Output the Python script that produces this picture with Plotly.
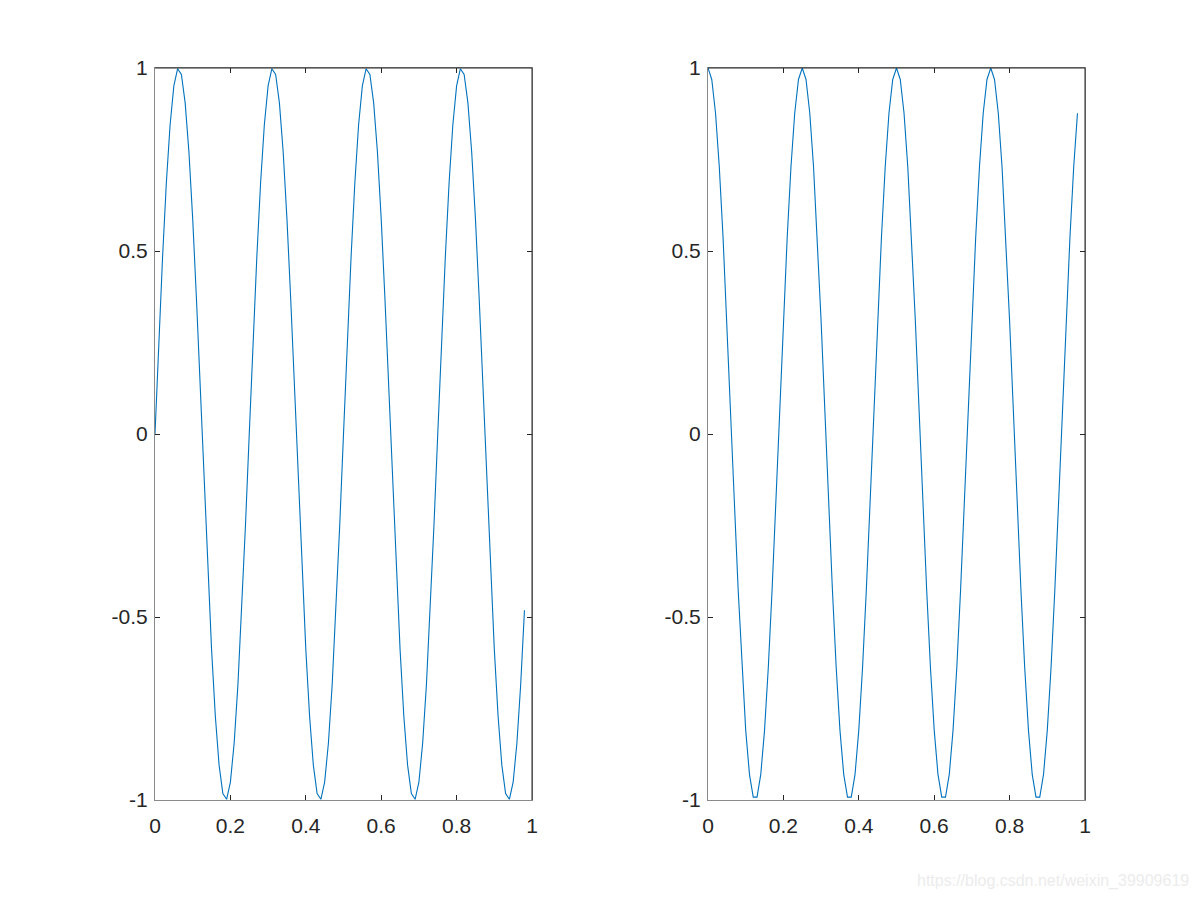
import plotly.graph_objects as go

# sample times (0 to 0.98, step 0.01)
t = [round(i * 0.01, 2) for i in range(99)]

# left panel values (sine)
y_left = [
    0.0000, 0.2487, 0.4818, 0.6845, 0.8443, 0.9511, 0.9980, 0.9823, 0.9048, 0.7705,
    0.5878, 0.3681, 0.1253, -0.1253, -0.3681, -0.5878, -0.7705, -0.9048, -0.9823, -0.9980,
    -0.9511, -0.8443, -0.6845, -0.4818, -0.2487,
    0.0000, 0.2487, 0.4818, 0.6845, 0.8443, 0.9511, 0.9980, 0.9823, 0.9048, 0.7705,
    0.5878, 0.3681, 0.1253, -0.1253, -0.3681, -0.5878, -0.7705, -0.9048, -0.9823, -0.9980,
    -0.9511, -0.8443, -0.6845, -0.4818, -0.2487,
    0.0000, 0.2487, 0.4818, 0.6845, 0.8443, 0.9511, 0.9980, 0.9823, 0.9048, 0.7705,
    0.5878, 0.3681, 0.1253, -0.1253, -0.3681, -0.5878, -0.7705, -0.9048, -0.9823, -0.9980,
    -0.9511, -0.8443, -0.6845, -0.4818, -0.2487,
    0.0000, 0.2487, 0.4818, 0.6845, 0.8443, 0.9511, 0.9980, 0.9823, 0.9048, 0.7705,
    0.5878, 0.3681, 0.1253, -0.1253, -0.3681, -0.5878, -0.7705, -0.9048, -0.9823, -0.9980,
    -0.9511, -0.8443, -0.6845, -0.4818,
]

# right panel values (cosine)
y_right = [
    1.0000, 0.9686, 0.8763, 0.7290, 0.5358, 0.3090, 0.0628, -0.1874, -0.4258, -0.6374,
    -0.8090, -0.9298, -0.9921, -0.9921, -0.9298, -0.8090, -0.6374, -0.4258, -0.1874, 0.0628,
    0.3090, 0.5358, 0.7290, 0.8763, 0.9686,
    1.0000, 0.9686, 0.8763, 0.7290, 0.5358, 0.3090, 0.0628, -0.1874, -0.4258, -0.6374,
    -0.8090, -0.9298, -0.9921, -0.9921, -0.9298, -0.8090, -0.6374, -0.4258, -0.1874, 0.0628,
    0.3090, 0.5358, 0.7290, 0.8763, 0.9686,
    1.0000, 0.9686, 0.8763, 0.7290, 0.5358, 0.3090, 0.0628, -0.1874, -0.4258, -0.6374,
    -0.8090, -0.9298, -0.9921, -0.9921, -0.9298, -0.8090, -0.6374, -0.4258, -0.1874, 0.0628,
    0.3090, 0.5358, 0.7290, 0.8763, 0.9686,
    1.0000, 0.9686, 0.8763, 0.7290, 0.5358, 0.3090, 0.0628, -0.1874, -0.4258, -0.6374,
    -0.8090, -0.9298, -0.9921, -0.9921, -0.9298, -0.8090, -0.6374, -0.4258, -0.1874, 0.0628,
    0.3090, 0.5358, 0.7290, 0.8763,
]

x_ticks = [0, 0.2, 0.4, 0.6, 0.8, 1]
x_ticklabels = ["0", "0.2", "0.4", "0.6", "0.8", "1"]
y_ticks = [-1, -0.5, 0, 0.5, 1]
y_ticklabels = ["-1", "-0.5", "0", "0.5", "1"]

LINE_COLOR = "#0072BD"
DARK = "#262626"
GRAY = "#8a8a8a"
OFF = 8  # page body offset
W, H = 1200 - OFF, 900 - OFF

fig = go.Figure()
fig.add_trace(go.Scatter(x=t, y=y_left, mode="lines", line=dict(color=LINE_COLOR, width=1.1),
                         xaxis="x", yaxis="y", showlegend=False))
fig.add_trace(go.Scatter(x=t, y=y_right, mode="lines", line=dict(color=LINE_COLOR, width=1.1),
                         xaxis="x2", yaxis="y2", showlegend=False))

def px_x(p):
    return (p - OFF) / W

def px_y(p):
    return 1 - (p - OFF) / H

xdom1 = [px_x(155), px_x(532)]
xdom2 = [px_x(708), px_x(1085)]
ydom = [px_y(800), px_y(68)]

font = dict(family="Liberation Sans, Arial, sans-serif", size=21, color=DARK)

def xaxis(dom, anchor):
    return dict(domain=dom, range=[0, 1], tickvals=x_ticks, ticktext=x_ticklabels,
                ticks="inside", ticklen=5, tickcolor=DARK, tickwidth=1,
                showline=True, linecolor=GRAY, linewidth=1, mirror="ticks",
                showgrid=False, zeroline=False, anchor=anchor, tickfont=font,
                automargin=False, ticklabelstandoff=7, fixedrange=True)

def yaxis(anchor):
    return dict(domain=ydom, range=[-1, 1], tickvals=y_ticks, ticktext=y_ticklabels,
                ticks="inside", ticklen=5, tickcolor=DARK, tickwidth=1,
                showline=True, linecolor=GRAY, linewidth=1, mirror="ticks",
                showgrid=False, zeroline=False, anchor=anchor, tickfont=font,
                automargin=False, ticklabelstandoff=2, fixedrange=True)

shapes = []
for xd in (xdom1, xdom2):
    # top and right box edges in dark
    shapes.append(dict(type="line", xref="paper", yref="paper", x0=xd[0], x1=xd[1],
                       y0=ydom[1], y1=ydom[1], line=dict(color=DARK, width=1)))
    shapes.append(dict(type="line", xref="paper", yref="paper", x0=xd[1], x1=xd[1],
                       y0=ydom[0], y1=ydom[1], line=dict(color=DARK, width=1)))

fig.update_layout(
    width=W, height=H,
    margin=dict(l=0, r=0, t=0, b=0, autoexpand=False),
    paper_bgcolor="white", plot_bgcolor="white",
    xaxis=xaxis(xdom1, "y"),
    yaxis=yaxis("x"),
    xaxis2=xaxis(xdom2, "y2"),
    yaxis2=yaxis("x2"),
    shapes=shapes,
    annotations=[dict(text="https://blog.csdn.net/weixin_39909619", xref="paper", yref="paper",
                      x=px_x(1191), y=px_y(881), xanchor="right", yanchor="middle",
                      showarrow=False,
                      font=dict(family="Liberation Sans, Arial, sans-serif", size=16,
                                color="#ececec"))],
)

fig.write_html("out.html")
